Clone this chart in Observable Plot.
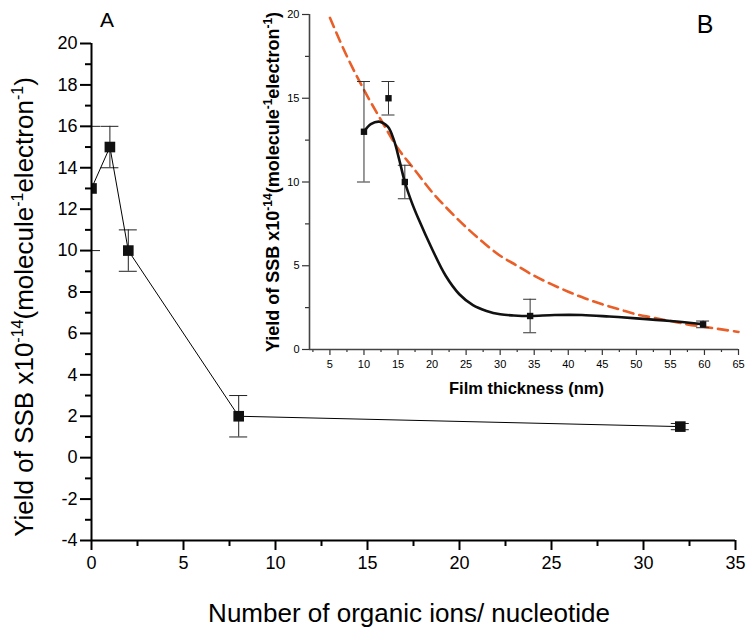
<!DOCTYPE html>
<html><head><meta charset="utf-8">
<script src="https://cdn.jsdelivr.net/npm/d3@7"></script>
<script src="https://cdn.jsdelivr.net/npm/@observablehq/plot@0.6"></script>
<style>
body{margin:0;background:#fff;}
#wrap{position:relative;width:754px;height:638px;overflow:hidden;}
#wrap svg{position:absolute;overflow:visible;}
</style></head><body><div id="wrap"></div>
<script>
// ---- Panel A data ----
const aX = [0, 1, 2, 8, 32];
const aY = [13, 15, 10, 2, 1.5];
const aLo = [10, 14, 9, 1, 1.35];
const aHi = [16, 16, 11, 3, 1.65];
const aXMajor = [0, 5, 10, 15, 20, 25, 30, 35];
const aXMinor = [2.5, 7.5, 12.5, 17.5, 22.5, 27.5, 32.5];
const aYMajor = [-4, -2, 0, 2, 4, 6, 8, 10, 12, 14, 16, 18, 20];
const aYMinor = [-3, -1, 1, 3, 5, 7, 9, 11, 13, 15, 17, 19];

// ---- Panel B data ----
const bX = [10, 13.6, 16, 34.4, 59.8];
const bY = [13, 15, 10, 2, 1.5];
const bLo = [10, 14, 9, 1, 1.3];
const bHi = [16, 16, 11, 3, 1.7];
const fitX = [10, 11, 12.3, 13.5, 14.4, 15.2, 16, 17, 18, 20, 22, 24, 26, 28, 30, 32, 34.4, 38, 42, 46, 50, 55, 60];
const fitY = [13.0, 13.45, 13.6, 13.3, 12.5, 11.3, 10.0, 8.8, 7.8, 6.0, 4.4, 3.3, 2.65, 2.3, 2.1, 2.03, 2.0, 2.06, 2.06, 1.97, 1.86, 1.7, 1.5];
const expX = [5, 7.5, 10, 12.5, 15, 17.5, 20, 22.5, 25, 27.5, 30, 32.5, 35, 37.5, 40, 42.5, 45, 47.5, 50, 52.5, 55, 57.5, 60, 62.5, 65];
const expY = [19.8, 17.5, 15.5, 13.7, 12.0, 10.7, 9.4, 8.3, 7.3, 6.4, 5.6, 5.0, 4.4, 3.9, 3.45, 3.05, 2.7, 2.4, 2.1, 1.9, 1.7, 1.5, 1.35, 1.2, 1.05];
const bXMajor = [5, 10, 15, 20, 25, 30, 35, 40, 45, 50, 55, 60, 65];
const bXMinor = [2.5, 7.5, 12.5, 17.5, 22.5, 27.5, 32.5, 37.5, 42.5, 47.5, 52.5, 57.5, 62.5];
const bYMajor = [0, 5, 10, 15, 20];
const bYMinor = [2.5, 7.5, 12.5, 17.5];

// ---- Text ----
const yLabelParts = [["Yield of SSB x10", false], ["-14", true], ["(molecule", false], ["-1", true], ["electron", false], ["-1", true], [")", false]];
const aXLabel = "Number of organic ions/ nucleotide";
const bXLabel = "Film thickness (nm)";
const panelA = "A", panelB = "B";

const FONT = "'Liberation Sans', Arial, Helvetica, sans-serif";
const rowsA = aX.map((x, i) => ({x, y: aY[i], lo: aLo[i], hi: aHi[i]}));
const rowsB = bX.map((x, i) => ({x, y: bY[i], lo: bLo[i], hi: bHi[i]}));
const fit = fitX.map((x, i) => ({x, y: fitY[i]}));
const expd = expX.map((x, i) => ({x, y: expY[i]}));
const fmt = d => String(d);

function addSupLabel(svg, x, y, size, supSize, raise, weight) {
  const t = d3.select(svg).append("text")
    .attr("transform", `translate(${x},${y}) rotate(-90)`)
    .attr("text-anchor", "middle")
    .attr("font-family", FONT)
    .attr("font-size", size)
    .attr("font-weight", weight)
    .attr("fill", "black");
  let up = false;
  yLabelParts.forEach(([s, sup]) => {
    const ts = t.append("tspan").text(s);
    if (sup) { ts.attr("font-size", supSize).attr("dy", -raise); up = true; }
    else if (up) { ts.attr("dy", raise); up = false; }
  });
}

// ---- Panel A ----
const A = Plot.plot({
  width: 754, height: 638,
  marginLeft: 91, marginRight: 19, marginTop: 43, marginBottom: 98,
  x: {domain: [0, 35]},
  y: {domain: [-4, 20]},
  style: {fontFamily: FONT, background: "transparent", color: "black"},
  marks: [
    Plot.axisX({ticks: aXMajor, tickSize: 10, tickPadding: 6, fontSize: 18, strokeWidth: 2, tickFormat: fmt, label: null}),
    Plot.axisX({ticks: aXMinor, tickSize: 6, strokeWidth: 2, text: null, label: null}),
    Plot.axisY({ticks: aYMajor, tickSize: 11, tickPadding: 3, fontSize: 18, strokeWidth: 2, tickFormat: fmt, label: null}),
    Plot.axisY({ticks: aYMinor, tickSize: 6, strokeWidth: 2, text: null, label: null}),
    Plot.ruleX(rowsA, {x: "x", y1: "lo", y2: "hi", stroke: "#222", strokeWidth: 1, clip: true}),
    Plot.ruleY(rowsA, {x1: "x", x2: "x", y: "lo", insetLeft: -9, insetRight: -9, stroke: "#222", strokeWidth: 1, clip: true}),
    Plot.ruleY(rowsA, {x1: "x", x2: "x", y: "hi", insetLeft: -9, insetRight: -9, stroke: "#222", strokeWidth: 1, clip: true}),
    Plot.line(rowsA, {x: "x", y: "y", stroke: "black", strokeWidth: 1}),
    Plot.dot(rowsA, {x: "x", y: "y", symbol: "square", r: 6, fill: "#111", stroke: null, clip: true}),
    Plot.ruleX([0], {stroke: "black", strokeWidth: 2}),
    Plot.ruleY([-4], {stroke: "black", strokeWidth: 2})
  ]
});
A.style.left = "0px"; A.style.top = "0px";
document.getElementById("wrap").appendChild(A);
d3.select(A).append("text").attr("x", 409).attr("y", 622).attr("text-anchor", "middle")
  .attr("font-family", FONT).attr("font-size", 26).attr("fill", "black").text(aXLabel);
d3.select(A).append("text").attr("x", 107).attr("y", 27)
  .attr("font-family", FONT).attr("font-size", 21).attr("fill", "black").text(panelA);
addSupLabel(A, 33, 307, 26, 16, 10, "normal");

// ---- Panel B (inset) ----
const B = Plot.plot({
  width: 504, height: 400,
  marginLeft: 59, marginRight: 16, marginTop: 14, marginBottom: 51,
  x: {domain: [2, 65]},
  y: {domain: [0, 20]},
  style: {fontFamily: FONT, background: "transparent", color: "black"},
  marks: [
    Plot.axisX({ticks: bXMajor, tickSize: 6, tickPadding: 5, fontSize: 11, strokeWidth: 1.2, stroke: "#333", tickFormat: fmt, label: null}),
    Plot.axisX({ticks: bXMinor, tickSize: 3, strokeWidth: 1.2, stroke: "#333", text: null, label: null}),
    Plot.axisY({ticks: bYMajor, tickSize: 7, tickPadding: 3, fontSize: 11, strokeWidth: 1.2, stroke: "#333", tickFormat: fmt, label: null}),
    Plot.axisY({ticks: bYMinor, tickSize: 4, strokeWidth: 1.2, stroke: "#333", text: null, label: null}),
    Plot.line(expd, {x: "x", y: "y", stroke: "#ea5e28", strokeWidth: 2.6, strokeDasharray: "10,6", curve: "catmull-rom"}),
    Plot.ruleX(rowsB, {x: "x", y1: "lo", y2: "hi", stroke: "#333", strokeWidth: 1}),
    Plot.ruleY(rowsB, {x1: "x", x2: "x", y: "lo", insetLeft: -6.5, insetRight: -6.5, stroke: "#333", strokeWidth: 1}),
    Plot.ruleY(rowsB, {x1: "x", x2: "x", y: "hi", insetLeft: -6.5, insetRight: -6.5, stroke: "#333", strokeWidth: 1}),
    Plot.line(fit, {x: "x", y: "y", stroke: "#111", strokeWidth: 2.6, curve: "catmull-rom"}),
    Plot.dot(rowsB, {x: "x", y: "y", symbol: "square", r: 3.6, fill: "#111", stroke: null}),
    Plot.ruleX([2], {stroke: "#444", strokeWidth: 1.6}),
    Plot.ruleY([0], {stroke: "#444", strokeWidth: 1.6})
  ]
});
B.style.left = "250px"; B.style.top = "0px";
document.getElementById("wrap").appendChild(B);
d3.select(B).append("text").attr("x", 276.5).attr("y", 394).attr("text-anchor", "middle")
  .attr("font-family", FONT).attr("font-size", 16.5).attr("font-weight", "bold").attr("fill", "black").text(bXLabel);
d3.select(B).append("text").attr("x", 455).attr("y", 33)
  .attr("font-family", FONT).attr("font-size", 25).attr("fill", "black").text(panelB);
addSupLabel(B, 29, 182, 18, 12, 7, "bold");
</script></body></html>
